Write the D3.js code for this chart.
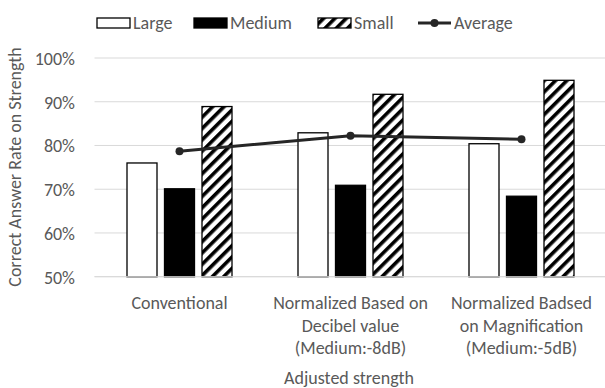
<!DOCTYPE html>
<html><head><meta charset="utf-8">
<script src="https://cdn.jsdelivr.net/npm/d3@7"></script>
<style>
body{margin:0;background:#fff;}
text{font-family:Carlito,Calibri,Lato,"Open Sans",sans-serif;fill:#595959;}
</style></head>
<body><svg id="c" width="605" height="388"></svg>
<script>
const categories = [["Conventional"],["Normalized Based on","Decibel value","(Medium:-8dB)"],["Normalized Badsed","on Magnification","(Medium:-5dB)"]];
const catKeys = ["c1","c2","c3"];
const seriesNames = ["Large","Medium","Small"];
const large = [0.760, 0.829, 0.804];
const medium = [0.701, 0.709, 0.684];
const small = [0.889, 0.917, 0.949];
const average = [0.787, 0.822, 0.814];
const yTicks = [0.5,0.6,0.7,0.8,0.9,1.0];
const FS = 18;

const svg = d3.select("#c");
const defs = svg.append("defs");
const pat = defs.append("pattern").attr("id","hatch").attr("patternUnits","userSpaceOnUse")
  .attr("width",8).attr("height",8).attr("patternTransform","rotate(45)");
pat.append("rect").attr("width",8).attr("height",8).attr("fill","#fff");
pat.append("rect").attr("x",0).attr("width",3.6).attr("height",8).attr("fill","#000");

const y = d3.scaleLinear().domain([0.5,1]).range([276.7,58]);
const x0 = d3.scaleBand().domain(catKeys).range([94,607]);
const x1 = d3.scaleBand().domain(seriesNames).range([0,x0.bandwidth()]).paddingInner(0.2).paddingOuter(0.88);

// gridlines
svg.append("g").selectAll("line").data(yTicks).join("line")
  .attr("x1",94.5).attr("x2",605).attr("y1",d=>y(d)).attr("y2",d=>y(d))
  .attr("stroke","#d9d9d9").attr("stroke-width",1);

// y axis labels
const yAxis = d3.axisLeft(y).tickValues(yTicks).tickFormat(d3.format(".0%")).tickSize(0).tickPadding(0);
const ya = svg.append("g").attr("transform","translate(75,0)").call(yAxis);
ya.select(".domain").remove();
ya.selectAll("text").attr("font-size",FS).attr("fill","#595959").attr("dy","0.35em").style("font-family","Carlito,Calibri,Lato,'Open Sans',sans-serif");

const fills = {Large:"#fff", Medium:"#000", Small:"url(#hatch)"};
const vals = {Large:large, Medium:medium, Small:small};
const data = [];
seriesNames.forEach(s=>catKeys.forEach((c,i)=>data.push({s,c,v:vals[s][i]})));
svg.append("g").selectAll("rect").data(data).join("rect")
  .attr("x",d=>x0(d.c)+x1(d.s)).attr("width",x1.bandwidth())
  .attr("y",d=>y(d.v)).attr("height",d=>y(0.5)-y(d.v))
  .attr("fill",d=>fills[d.s]).attr("stroke","#000").attr("stroke-width",1.3);

// bottom axis line
svg.append("line").attr("x1",94.5).attr("x2",605).attr("y1",y(0.5)).attr("y2",y(0.5)).attr("stroke","#d9d9d9");

// average line
const line = d3.line().x((d,i)=>x0(catKeys[i])+x0.bandwidth()/2).y(d=>y(d));
svg.append("path").datum(average).attr("d",line).attr("fill","none").attr("stroke","#262626").attr("stroke-width",3);
svg.append("g").selectAll("circle").data(average).join("circle")
  .attr("cx",(d,i)=>x0(catKeys[i])+x0.bandwidth()/2).attr("cy",d=>y(d)).attr("r",4).attr("fill","#262626");

// x labels
const xl = svg.append("g");
catKeys.forEach((c,i)=>{
  categories[i].forEach((t,j)=>{
    xl.append("text").attr("x",x0(c)+x0.bandwidth()/2).attr("y",303+j*22.5).attr("dy","0.35em")
      .attr("text-anchor","middle").attr("font-size",FS).text(t);
  });
});
svg.append("text").attr("x",349).attr("y",378).attr("dy","0.35em").attr("text-anchor","middle").attr("font-size",FS).text("Adjusted strength");
svg.append("text").attr("transform","translate(15,167) rotate(-90)").attr("dy","0.35em").attr("text-anchor","middle").attr("font-size",FS).text("Correct Answer Rate on Strength");

// legend
const lg = svg.append("g");
const legendItems = [
  {name:"Large", x:97, type:"rect", fill:"#fff"},
  {name:"Medium", x:194, type:"rect", fill:"#000"},
  {name:"Small", x:318, type:"rect", fill:"url(#hatch)"},
  {name:"Average", x:418, type:"line"}
];
legendItems.forEach(it=>{
  if(it.type==="rect"){
    lg.append("rect").attr("x",it.x).attr("y",18).attr("width",33).attr("height",10).attr("fill",it.fill).attr("stroke","#000").attr("stroke-width",1.3);
  } else {
    lg.append("line").attr("x1",it.x).attr("x2",it.x+33).attr("y1",23).attr("y2",23).attr("stroke","#262626").attr("stroke-width",3);
    lg.append("circle").attr("cx",it.x+16.5).attr("cy",23).attr("r",4).attr("fill","#262626");
  }
  lg.append("text").attr("x",it.x+36).attr("y",23).attr("dy","0.35em").attr("font-size",FS).text(it.name);
});
</script></body></html>
